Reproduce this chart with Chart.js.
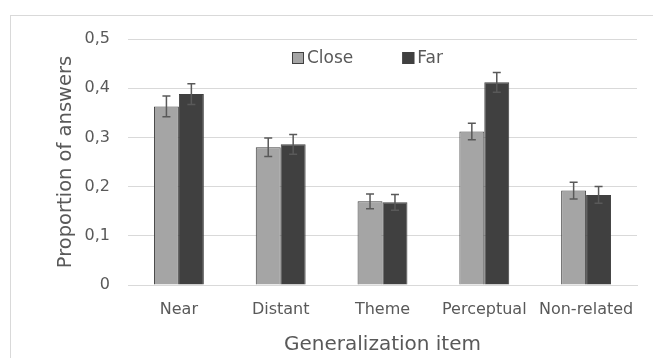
<!DOCTYPE html>
<html><head><meta charset="utf-8">
<script src="https://cdn.jsdelivr.net/npm/chart.js@4"></script>
<style>html,body{margin:0;padding:0;background:#fff}#wrap{width:653px;height:358px;position:relative}</style>
</head><body><div id="wrap"><canvas id="c" width="653" height="358"></canvas></div>
<script>
const categories = ['Near', 'Distant', 'Theme', 'Perceptual', 'Non-related'];
const seriesNames = ['Close', 'Far'];
const closeValues = [0.363, 0.280, 0.170, 0.312, 0.192];
const farValues = [0.388, 0.286, 0.168, 0.412, 0.183];
const closeErrors = [0.021, 0.019, 0.015, 0.017, 0.017];
const farErrors = [0.021, 0.020, 0.016, 0.020, 0.017];
const yTickLabels = ['0', '0,1', '0,2', '0,3', '0,4', '0,5'];
const xTitle = 'Generalization item';
const yTitle = 'Proportion of answers';

const FONT = "'DejaVu Sans', 'Open Sans', sans-serif";
const TXT = '#595959';

const frame = {
  id: 'frame',
  beforeDraw(chart) {
    const ctx = chart.ctx;
    ctx.save();
    ctx.strokeStyle = '#d9d9d9';
    ctx.lineWidth = 1;
    ctx.strokeRect(10.5, 15.5, 800, 500);
    ctx.restore();
  }
};

const errorBars = {
  id: 'errorBars',
  afterDatasetsDraw(chart) {
    const ctx = chart.ctx;
    const y = chart.scales.y;
    ctx.save();
    ctx.strokeStyle = '#595959';
    ctx.lineWidth = 1.5;
    chart.data.datasets.forEach((ds, di) => {
      const meta = chart.getDatasetMeta(di);
      meta.data.forEach((bar, i) => {
        const v = ds.data[i], e = ds.errors[i];
        const yt = y.getPixelForValue(v + e), yb = y.getPixelForValue(v - e);
        const x = bar.x;
        ctx.beginPath();
        ctx.moveTo(x, yt); ctx.lineTo(x, yb);
        ctx.moveTo(x - 4, yt); ctx.lineTo(x + 4, yt);
        ctx.moveTo(x - 4, yb); ctx.lineTo(x + 4, yb);
        ctx.stroke();
      });
    });
    ctx.restore();
  }
};

const customLegend = {
  id: 'customLegend',
  afterDraw(chart) {
    const ctx = chart.ctx;
    const a = chart.chartArea;
    ctx.save();
    ctx.font = '17px ' + FONT;
    ctx.textBaseline = 'middle';
    let x = a.left + 164;
    const yTop = a.top + 13;
    chart.data.datasets.forEach((ds) => {
      ctx.fillStyle = ds.backgroundColor;
      ctx.fillRect(x, yTop, 12, 12);
      ctx.strokeStyle = '#404040';
      ctx.lineWidth = 1;
      ctx.strokeRect(x + 0.5, yTop + 0.5, 11, 11);
      ctx.fillStyle = TXT;
      ctx.fillText(ds.label, x + 15, yTop + 6.5);
      x += 15 + ctx.measureText(ds.label).width + 49;
    });
    ctx.restore();
  }
};

new Chart(document.getElementById('c'), {
  type: 'bar',
  data: {
    labels: categories,
    datasets: [
      { label: seriesNames[0], data: closeValues, errors: closeErrors, backgroundColor: '#a5a5a5', borderColor: '#404040', borderWidth: 1 },
      { label: seriesNames[1], data: farValues, errors: farErrors, backgroundColor: '#404040', borderColor: '#404040', borderWidth: 1 }
    ]
  },
  options: {
    responsive: false,
    animation: false,
    devicePixelRatio: 1,
    layout: { padding: { left: 50, top: 39, right: 16, bottom: 0 } },
    datasets: { bar: { categoryPercentage: 0.49, barPercentage: 1.0 } },
    plugins: { legend: { display: false }, tooltip: { enabled: false } },
    scales: {
      x: {
        grid: { display: false, drawTicks: false },
        border: { display: true, color: '#d9d9d9' },
        ticks: { color: TXT, font: { family: FONT, size: 16 }, padding: 15, maxRotation: 0, autoSkip: false },
        title: { display: true, text: xTitle, color: TXT, font: { family: FONT, size: 20 }, padding: { top: 2, bottom: 1 } },
        afterFit(s) { s.height = 73; }
      },
      y: {
        min: 0, max: 0.5,
        grid: { color: '#d9d9d9', drawTicks: false },
        border: { display: false },
        ticks: {
          stepSize: 0.1, color: TXT, font: { family: FONT, size: 16 }, padding: 18,
          callback: (v, i) => yTickLabels[i]
        },
        title: { display: true, text: yTitle, color: TXT, font: { family: FONT, size: 19.5 }, padding: { top: 4, bottom: 0 } },
        afterFit(s) { s.width = 78; }
      }
    }
  },
  plugins: [frame, errorBars, customLegend]
});
</script></body></html>
